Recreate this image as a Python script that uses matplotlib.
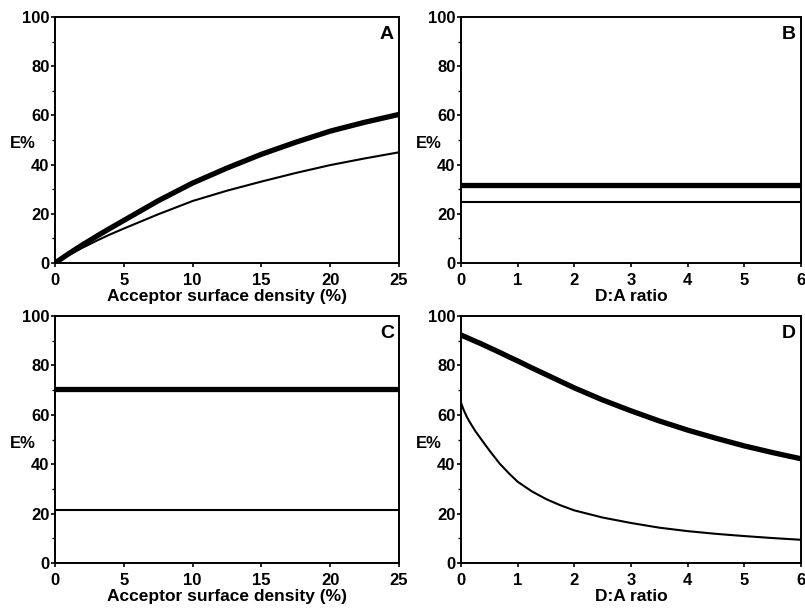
import matplotlib
matplotlib.use("Agg")
import matplotlib.pyplot as plt
from matplotlib.ticker import MultipleLocator

plt.rcParams['font.family'] = ['Liberation Sans', 'DejaVu Sans']
plt.rcParams['font.weight'] = 'bold'

# Panel A: E% vs acceptor surface density
a_x = [0, 1, 2, 3, 4, 5, 7.5, 10, 12.5, 15, 17.5, 20, 22.5, 25]
a_thick = [0, 3.8, 7.4, 10.8, 14.1, 17.3, 25.3, 32.5, 38.6, 44.2, 49.1, 53.6, 57.2, 60.4]
a_thin = [0, 3.2, 6.2, 9.0, 11.6, 14.0, 19.8, 25.2, 29.4, 33.1, 36.6, 39.8, 42.5, 45.0]

# Panel B: E% vs D:A ratio (constant)
b_x = [0, 6]
b_thick = [31.8, 31.8]
b_thin = [25.0, 25.0]

# Panel C: E% vs acceptor surface density (constant)
c_x = [0, 25]
c_thick = [70.3, 70.3]
c_thin = [21.5, 21.5]

# Panel D: E% vs D:A ratio
d_x = [0, 0.05, 0.1, 0.15, 0.25, 0.35, 0.5, 0.68, 0.85, 1, 1.25, 1.5, 1.75, 2, 2.5, 3, 3.5, 4, 4.5, 5, 5.5, 6]
d_thick = [92.3, 91.8, 91.3, 90.8, 89.8, 88.8, 87.2, 85.3, 83.4, 81.8, 79.0, 76.3, 73.6, 70.9, 66.0, 61.6, 57.5, 53.8, 50.5, 47.4, 44.7, 42.2]
d_thin = [64.9, 61.8, 59.3, 57.2, 53.5, 50.3, 45.6, 40.3, 36.2, 32.9, 29.0, 25.9, 23.4, 21.3, 18.4, 16.2, 14.3, 12.9, 11.8, 10.9, 10.1, 9.4]

panels = [
    (a_x, a_thick, a_thin, 'A', (0, 25), 5, 'Acceptor surface density (%)'),
    (b_x, b_thick, b_thin, 'B', (0, 6), 1, 'D:A ratio'),
    (c_x, c_thick, c_thin, 'C', (0, 25), 5, 'Acceptor surface density (%)'),
    (d_x, d_thick, d_thin, 'D', (0, 6), 1, 'D:A ratio'),
]

W, H = 805, 609
fig = plt.figure(figsize=(W / 100, H / 100), dpi=100)

boxes = [
    (55, 17, 399, 263),
    (461, 17, 801, 263),
    (55, 316, 399, 563),
    (461, 316, 801, 563),
]

for (x, yk, yn, letter, xlim, xstep, xlabel), (l, t, r, b) in zip(panels, boxes):
    ax = fig.add_axes([l / W, 1 - b / H, (r - l) / W, (b - t) / H])
    ax.plot(x, yk, color='black', lw=3.8, solid_capstyle='butt', clip_on=True)
    ax.plot(x, yn, color='black', lw=1.5, solid_capstyle='butt', clip_on=True)
    ax.set_xlim(*xlim)
    ax.set_ylim(0, 100)
    ax.xaxis.set_major_locator(MultipleLocator(xstep))
    ax.yaxis.set_major_locator(MultipleLocator(20))
    ax.yaxis.set_minor_locator(MultipleLocator(10))
    for s in ax.spines.values():
        s.set_linewidth(1.4)
    ax.tick_params(axis='both', which='major', direction='out', length=3, width=1.2,
                   labelsize=12)
    ax.tick_params(axis='x', which='major', pad=4)
    ax.tick_params(axis='y', which='major', pad=1)
    ax.tick_params(axis='y', which='minor', direction='out', length=2, width=1.0)
    for lab in ax.get_xticklabels() + ax.get_yticklabels():
        lab.set_fontweight('bold')
    ax.set_xlabel(xlabel, fontsize=12.5, fontweight='bold', labelpad=1)
    ax.text(-0.095, 0.485, 'E%', transform=ax.transAxes, ha='center', va='center',
            fontsize=12, fontweight='bold')
    ax.text(0.985, 0.965, letter, transform=ax.transAxes, ha='right', va='top',
            fontsize=14, fontweight='bold')

fig.savefig('out.png', dpi=100)
